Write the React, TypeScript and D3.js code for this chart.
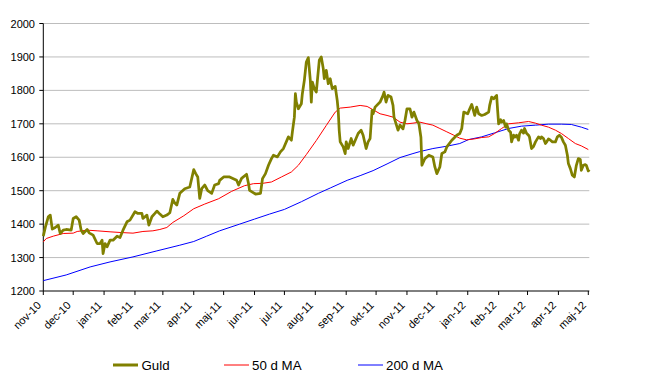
import * as d3 from "d3";

const months = ["jan", "feb", "mar", "apr", "maj", "jun", "jul", "aug", "sep", "okt", "nov", "dec"];
const yTicks = [1200, 1300, 1400, 1500, 1600, 1700, 1800, 1900, 2000];
const seriesNames = ["Guld", "50 d MA", "200 d MA"];

const goldDates = [
  "2010-11-01", "2010-11-03", "2010-11-06", "2010-11-08", "2010-11-10", "2010-11-13", "2010-11-16", "2010-11-18", "2010-11-21", "2010-11-24", "2010-11-29",
  "2010-12-01", "2010-12-04", "2010-12-07", "2010-12-09", "2010-12-11", "2010-12-15", "2010-12-17", "2010-12-21", "2010-12-25", "2010-12-28", "2010-12-30", "2010-12-31",
  "2011-01-02", "2011-01-04", "2011-01-07", "2011-01-10", "2011-01-14", "2011-01-17", "2011-01-20", "2011-01-24", "2011-01-27",
  "2011-02-01", "2011-02-04", "2011-02-08", "2011-02-09", "2011-02-13", "2011-02-15", "2011-02-18", "2011-02-21", "2011-02-23", "2011-02-26",
  "2011-03-01", "2011-03-05", "2011-03-08", "2011-03-11", "2011-03-13", "2011-03-15", "2011-03-18", "2011-03-23", "2011-03-28",
  "2011-04-01", "2011-04-03", "2011-04-05", "2011-04-07", "2011-04-09", "2011-04-12", "2011-04-15", "2011-04-19", "2011-04-22", "2011-04-26", "2011-04-27",
  "2011-05-01", "2011-05-07", "2011-05-14", "2011-05-16", "2011-05-19", "2011-05-24", "2011-05-26", "2011-05-27",
  "2011-06-02", "2011-06-07", "2011-06-09", "2011-06-12", "2011-06-15", "2011-06-18", "2011-06-20", "2011-06-24", "2011-06-27", "2011-06-30",
  "2011-07-05", "2011-07-08", "2011-07-09", "2011-07-11", "2011-07-12", "2011-07-13", "2011-07-15", "2011-07-18", "2011-07-19", "2011-07-21", "2011-07-23", "2011-07-25", "2011-07-27", "2011-07-28", "2011-07-29", "2011-07-31",
  "2011-08-02", "2011-08-05", "2011-08-07", "2011-08-09", "2011-08-10", "2011-08-12", "2011-08-14", "2011-08-16", "2011-08-18", "2011-08-21", "2011-08-23", "2011-08-24", "2011-08-25", "2011-08-26", "2011-08-29", "2011-08-31",
  "2011-09-01", "2011-09-03", "2011-09-06", "2011-09-08", "2011-09-13", "2011-09-16", "2011-09-18", "2011-09-21", "2011-09-23", "2011-09-25", "2011-09-27", "2011-09-28", "2011-09-30",
  "2011-10-05", "2011-10-08", "2011-10-09", "2011-10-11", "2011-10-13", "2011-10-16", "2011-10-18", "2011-10-19", "2011-10-23", "2011-10-25", "2011-10-28", "2011-10-30",
  "2011-11-01", "2011-11-04", "2011-11-06", "2011-11-08", "2011-11-11", "2011-11-13", "2011-11-15", "2011-11-16", "2011-11-18", "2011-11-19", "2011-11-23", "2011-11-27", "2011-11-29",
  "2011-12-01", "2011-12-04", "2011-12-06", "2011-12-09", "2011-12-11", "2011-12-16", "2011-12-21", "2011-12-24", "2011-12-26", "2011-12-28",
  "2012-01-01", "2012-01-03", "2012-01-05", "2012-01-08", "2012-01-10", "2012-01-12", "2012-01-15", "2012-01-18", "2012-01-22", "2012-01-23", "2012-01-25", "2012-01-27", "2012-01-30", "2012-01-31",
  "2012-02-01", "2012-02-03", "2012-02-04", "2012-02-06", "2012-02-08", "2012-02-09", "2012-02-11", "2012-02-13", "2012-02-14", "2012-02-16", "2012-02-17", "2012-02-19", "2012-02-21", "2012-02-22", "2012-02-24", "2012-02-26", "2012-02-27", "2012-02-29",
  "2012-03-02", "2012-03-03", "2012-03-05", "2012-03-07", "2012-03-09", "2012-03-12", "2012-03-14", "2012-03-15", "2012-03-17", "2012-03-19", "2012-03-20", "2012-03-22", "2012-03-24", "2012-03-26", "2012-03-29", "2012-03-31",
  "2012-04-02", "2012-04-04", "2012-04-06", "2012-04-08", "2012-04-10", "2012-04-11", "2012-04-13", "2012-04-15", "2012-04-17", "2012-04-19", "2012-04-21", "2012-04-23", "2012-04-24", "2012-04-26", "2012-04-28", "2012-04-29",
  "2012-05-01", "2012-05-02",
];
const goldValues = [
  1364, 1390, 1422, 1427, 1385, 1390, 1397, 1372, 1382, 1384, 1382,
  1417, 1422, 1412, 1382, 1372, 1384, 1374, 1367, 1342, 1342, 1352, 1312,
  1342, 1332, 1352, 1352, 1364, 1360, 1382, 1407, 1412,
  1437, 1432, 1432, 1417, 1427, 1397, 1422, 1432, 1439, 1430,
  1422, 1427, 1434, 1474, 1463, 1457, 1492, 1506, 1511,
  1563, 1551, 1541, 1477, 1506, 1517, 1500, 1492, 1517, 1521, 1531,
  1541, 1541, 1531, 1517, 1537, 1549, 1521, 1501,
  1490, 1492, 1536, 1551, 1576, 1596, 1606, 1601, 1616, 1626,
  1661, 1651, 1676, 1720, 1790, 1765, 1745, 1760, 1790, 1830, 1885, 1898, 1830, 1765, 1825, 1805,
  1795, 1890, 1900, 1865, 1835, 1860, 1820, 1835, 1805, 1812, 1770, 1740, 1680, 1646, 1631, 1611,
  1646, 1626, 1656, 1636, 1671, 1681, 1666, 1626, 1646, 1656, 1740, 1730, 1750,
  1765, 1785, 1795, 1765, 1785, 1780, 1755, 1720, 1681, 1696, 1685, 1710,
  1745, 1745, 1720, 1735, 1710, 1700, 1660, 1576, 1590, 1596, 1606, 1601, 1571,
  1551, 1571, 1611, 1616, 1631, 1651, 1666, 1671, 1686, 1735,
  1730, 1745, 1758, 1725, 1750, 1730, 1725, 1728, 1735, 1755, 1780, 1775, 1785, 1740,
  1700, 1712, 1705, 1710, 1690, 1700, 1681, 1675, 1646, 1666, 1660, 1666, 1651, 1670, 1681, 1672, 1686, 1672,
  1666, 1660, 1626, 1632, 1646, 1661, 1656, 1661, 1656, 1641, 1645, 1655, 1651, 1646, 1646, 1661,
  1666, 1660, 1646, 1636, 1606, 1581, 1566, 1546, 1541, 1576, 1596, 1593, 1561, 1576, 1578, 1576,
  1559, 1563,
];

const ma50Dates = [
  "2010-11-01", "2010-11-04", "2010-11-11", "2010-11-21", "2010-12-01", "2010-12-05", "2010-12-15", "2010-12-25",
  "2011-01-07", "2011-01-17", "2011-01-30", "2011-02-09", "2011-02-19", "2011-02-26", "2011-03-05", "2011-03-11",
  "2011-03-22", "2011-04-01", "2011-04-12", "2011-04-26", "2011-05-09", "2011-05-22", "2011-05-31", "2011-06-09",
  "2011-06-18", "2011-06-28", "2011-07-08", "2011-07-15", "2011-07-23", "2011-08-02", "2011-08-12", "2011-08-21",
  "2011-08-26", "2011-09-05", "2011-09-15", "2011-09-22", "2011-09-28", "2011-10-05", "2011-10-12", "2011-10-18",
  "2011-10-25", "2011-11-01", "2011-11-07", "2011-11-14", "2011-11-21", "2011-11-27", "2011-12-04", "2011-12-11",
  "2011-12-18", "2011-12-24", "2011-12-31", "2012-01-08", "2012-01-15", "2012-01-22", "2012-01-28", "2012-02-04",
  "2012-02-11", "2012-02-21", "2012-03-02", "2012-03-09", "2012-03-15", "2012-03-22", "2012-03-29", "2012-04-04",
  "2012-04-11", "2012-04-18", "2012-04-24", "2012-05-01",
];
const ma50Values = [
  1347, 1357, 1364, 1372, 1373, 1378, 1382, 1380,
  1377, 1375, 1373, 1378, 1380, 1384, 1390, 1405,
  1425, 1446, 1460, 1476, 1498, 1515, 1521, 1522,
  1526, 1541, 1556, 1576, 1608, 1650, 1695, 1735,
  1747, 1750, 1755, 1752, 1742, 1730, 1725, 1720,
  1705, 1700, 1702, 1705, 1700, 1696, 1686, 1676,
  1666, 1657, 1652, 1655, 1659, 1661, 1671, 1686,
  1700, 1703, 1707, 1702, 1696, 1690, 1681, 1671,
  1656, 1641, 1634, 1623,
];

const ma200Dates = [
  "2010-11-01", "2010-11-24", "2010-12-18", "2011-01-07", "2011-01-30", "2011-02-23", "2011-03-18", "2011-04-01",
  "2011-04-14", "2011-04-27", "2011-05-17", "2011-06-01", "2011-06-16", "2011-07-01", "2011-07-18", "2011-08-04",
  "2011-08-16", "2011-09-02", "2011-09-15", "2011-09-28", "2011-10-12", "2011-10-25", "2011-11-07", "2011-11-14",
  "2011-11-27", "2011-12-11", "2011-12-24", "2012-01-02", "2012-01-15", "2012-01-28", "2012-02-11", "2012-02-24",
  "2012-03-09", "2012-03-22", "2012-04-04", "2012-04-14", "2012-04-24", "2012-05-01",
];
const ma200Values = [
  1231, 1248, 1272, 1287, 1302, 1320, 1337, 1348,
  1364, 1380, 1400, 1415, 1430, 1444, 1467, 1492,
  1508, 1531, 1545, 1560, 1580, 1599, 1611, 1617,
  1626, 1633, 1641, 1653, 1661, 1673, 1686, 1693,
  1696, 1699, 1699, 1698, 1690, 1683,
];

const W = 647;
const H = 392;
const parse = d3.timeParse("%Y-%m-%d");

type Pt = { d: Date; v: number };
const zip = (ds: string[], vs: number[]): Pt[] =>
  ds.slice(0, Math.min(ds.length, vs.length)).map((s, i) => ({ d: parse(s) as Date, v: vs[i] }));

export default function App() {
  const x = d3
    .scaleTime()
    .domain([new Date(2010, 10, 1), new Date(2012, 4, 2)])
    .range([43.3, 589.3]);
  const y = d3.scaleLinear().domain([1200, 2000]).range([291, 23.5]);

  const line = d3
    .line<Pt>()
    .x((p) => x(p.d))
    .y((p) => y(p.v));

  const gold = zip(goldDates, goldValues);
  const ma50 = zip(ma50Dates, ma50Values);
  const ma200 = zip(ma200Dates, ma200Values);

  const monthTicks = d3.timeMonth.range(new Date(2010, 10, 1), new Date(2012, 4, 2));
  const fmt = (d: Date) => `${months[d.getMonth()]}-${String(d.getFullYear()).slice(2)}`;

  const font = "Arial, 'Liberation Sans', sans-serif";
  const x0 = x.range()[0];
  const x1 = x.range()[1];

  const legend = [
    { name: seriesNames[0], color: "#808000", w: 3, lx: 113, tx: 141.5 },
    { name: seriesNames[1], color: "#ff0000", w: 1, lx: 224, tx: 252 },
    { name: seriesNames[2], color: "#0000ff", w: 1, lx: 358, tx: 386 },
  ];

  return (
    <svg
      width={W}
      height={H}
      style={{ position: "absolute", left: 0, top: 0, background: "#fff" }}
      fontFamily={font}
    >
      {/* grid */}
      {yTicks.slice(1).map((t) => (
        <line key={t} x1={x0} x2={x1} y1={y(t)} y2={y(t)} stroke="#bdbdbd" strokeWidth={1} />
      ))}

      {/* y axis */}
      <line x1={x0} x2={x0} y1={y(2000)} y2={y(1200)} stroke="#000" strokeWidth={1} />
      {yTicks.map((t) => (
        <g key={t}>
          <line x1={x0 - 4} x2={x0} y1={y(t)} y2={y(t)} stroke="#000" />
          <text x={35} y={y(t) + 4} textAnchor="end" fontSize={11} fill="#000">
            {t}
          </text>
        </g>
      ))}

      {/* x axis */}
      <line x1={x0} x2={x1} y1={y(1200)} y2={y(1200)} stroke="#000" strokeWidth={1} />
      {monthTicks.map((m) => (
        <g key={m.getTime()}>
          <line x1={x(m)} x2={x(m)} y1={y(1200)} y2={y(1200) + 4} stroke="#000" />
          <text
            transform={`translate(${x(m) - 1.5},${y(1200) + 15}) rotate(-45)`}
            textAnchor="end"
            fontSize={11}
            fill="#000"
          >
            {fmt(m)}
          </text>
        </g>
      ))}

      {/* series */}
      <path d={line(ma200) ?? ""} fill="none" stroke="#0000ff" strokeWidth={1} />
      <path d={line(ma50) ?? ""} fill="none" stroke="#ff0000" strokeWidth={1} />
      <path d={line(gold) ?? ""} fill="none" stroke="#808000" strokeWidth={2.75} strokeLinejoin="round" />

      {/* legend */}
      {legend.map((l) => (
        <g key={l.name}>
          <line x1={l.lx} x2={l.lx + 25} y1={365} y2={365} stroke={l.color} strokeWidth={l.w} />
          <text x={l.tx} y={369.5} fontSize={13.3} fill="#000">
            {l.name}
          </text>
        </g>
      ))}
    </svg>
  );
}
